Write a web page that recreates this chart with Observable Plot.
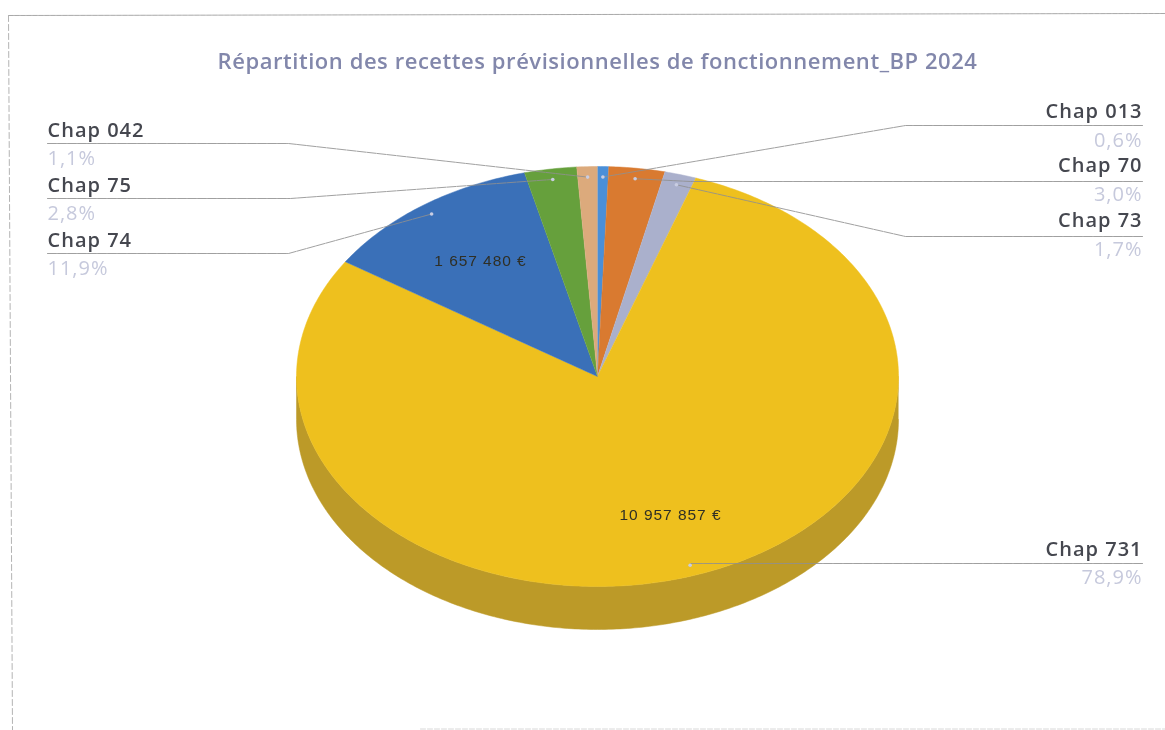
<!DOCTYPE html>
<html lang="fr">
<head>
<meta charset="utf-8">
<script src="https://cdn.jsdelivr.net/npm/d3@7"></script>
<script src="https://cdn.jsdelivr.net/npm/@observablehq/plot@0.6"></script>
<style>
  html, body { margin: 0; padding: 0; background: #fff; }
  #chart svg { display: block; filter: blur(0.75px); }
  .spaced-label text { letter-spacing: 1px; }
  .spaced-title text { letter-spacing: 0.55px; }
  .spaced-amount text { letter-spacing: 0.95px; }
</style>
</head>
<body>
<div id="chart"></div>
<script>
// ---- Data
const chapters = ["Chap 013", "Chap 70", "Chap 73", "Chap 731", "Chap 74", "Chap 75", "Chap 042"];
const shares = [0.6, 3.0, 1.7, 78.9, 11.9, 2.8, 1.1];
const shareLabels = ["0,6%", "3,0%", "1,7%", "78,9%", "11,9%", "2,8%", "1,1%"];
const amountLabels = [
  {chapter: "Chap 74", text: "1 657 480 €"},
  {chapter: "Chap 731", text: "10 957 857 €"}
];
const title = "Répartition des recettes prévisionnelles de fonctionnement_BP 2024";

// ---- Styles and layout
const colors = ["#4a8fd8", "#d97a30", "#aab0cc", "#eec01e", "#3a70b8", "#66a03c", "#dcaa7c"];
const wallColor = "#bc9a28";
const pie = {cx: 597, cy: 376, rx: 301, ry: 210, depth: 43, anchor: 0.95};
const labelLayout = {
  "Chap 013": {side: "right", nameY: 111, pctY: 140, lineY: 125, elbowX: 905},
  "Chap 70":  {side: "right", nameY: 165, pctY: 194, lineY: 181, elbowX: 690},
  "Chap 73":  {side: "right", nameY: 220, pctY: 249, lineY: 236, elbowX: 905},
  "Chap 731": {side: "right", nameY: 549, pctY: 577, lineY: 563, elbowX: 690},
  "Chap 74":  {side: "left",  nameY: 240, pctY: 268, lineY: 253, elbowX: 288},
  "Chap 75":  {side: "left",  nameY: 185, pctY: 213, lineY: 198, elbowX: 290},
  "Chap 042": {side: "left",  nameY: 130, pctY: 158, lineY: 143, elbowX: 288}
};
const amountPos = {"Chap 74": [480, 261], "Chap 731": [670, 515]};
const leftX = 47, rightX = 1142;
const font = "'Open Sans', 'Noto Sans', sans-serif";

// ---- Pie geometry derived from the shares
const total = d3.sum(shares);
const onPie = (a, r = 1, dy = 0) => ({
  x: pie.cx + pie.rx * r * Math.sin(a),
  y: pie.cy + dy - pie.ry * r * Math.cos(a)
});
let cum = 0;
const slices = chapters.map((chapter, i) => {
  const a0 = cum / total * 2 * Math.PI;
  cum += shares[i];
  const a1 = cum / total * 2 * Math.PI;
  return {chapter, share: shareLabels[i], a0, a1, mid: (a0 + a1) / 2};
});
const arcPts = (a0, a1, dy = 0) => {
  const n = Math.max(2, Math.ceil((a1 - a0) * 80));
  return d3.range(n + 1).map(k => onPie(a0 + (a1 - a0) * k / n, 1, dy));
};
const slicePts = slices.flatMap(s =>
  [{x: pie.cx, y: pie.cy}, ...arcPts(s.a0, s.a1)].map(p => ({...p, chapter: s.chapter}))
);
const wallPts = [
  ...arcPts(Math.PI / 2, 3 * Math.PI / 2, 0),
  ...arcPts(Math.PI / 2, 3 * Math.PI / 2, pie.depth).reverse()
];

const leaderPts = slices.flatMap(s => {
  const l = labelLayout[s.chapter];
  const end = onPie(s.mid, pie.anchor);
  return [
    {x: l.side === "right" ? rightX : leftX, y: l.lineY},
    {x: l.elbowX, y: l.lineY},
    end
  ].map(p => ({...p, chapter: s.chapter}));
});
const anchors = slices.map(s => onPie(s.mid, pie.anchor));
const names = slices.map(s => ({...s, ...labelLayout[s.chapter]}));
const leftNames = names.filter(d => d.side === "left");
const rightNames = names.filter(d => d.side === "right");

const frameTop = [{x: 8, y: 15}, {x: 1165, y: 13}];
const frameLeft = [{x: 8, y: 15}, {x: 12, y: 730}];
const frameBottom = [{x: 420, y: 728.5}, {x: 1165, y: 728.5}];

const labelMarks = (data, x, textAnchor) => [
  Plot.text(data, {x: () => x, y: "nameY", text: "chapter", textAnchor, fontFamily: font,
    fontSize: 20, fontWeight: 600, fill: "#45474f", className: "spaced-label"}),
  Plot.text(data, {x: () => x, y: "pctY", text: "share", textAnchor, fontFamily: font,
    fontSize: 20, fill: "#c6c9dc", className: "spaced-label"})
];

const plot = Plot.plot({
  width: 1165,
  height: 730,
  margin: 0,
  style: {background: "#fff"},
  x: {domain: [0, 1165], range: [0, 1165], axis: null},
  y: {domain: [0, 730], range: [0, 730], axis: null},
  color: {domain: chapters, range: colors},
  marks: [
    Plot.line(frameTop, {x: "x", y: "y", stroke: "#a8a8a8", strokeWidth: 1, strokeDasharray: "5,1"}),
    Plot.line(frameLeft, {x: "x", y: "y", stroke: "#b4b4b4", strokeWidth: 1, strokeDasharray: "6,3"}),
    Plot.line(frameBottom, {x: "x", y: "y", stroke: "#d8d8d8", strokeWidth: 1, strokeDasharray: "5,2"}),
    Plot.line(wallPts, {x: "x", y: "y", fill: wallColor, stroke: wallColor, strokeWidth: 0.5}),
    Plot.line(slicePts, {x: "x", y: "y", z: "chapter", fill: "chapter", stroke: "chapter", strokeWidth: 0.5}),
    Plot.line(leaderPts, {x: "x", y: "y", z: "chapter", stroke: "#8f8f8f", strokeWidth: 1,
      strokeOpacity: 0.85, strokeDasharray: "9,1"}),
    Plot.dot(anchors, {x: "x", y: "y", r: 1.8, fill: "#c9cde2"}),
    ...labelMarks(leftNames, leftX, "start"),
    ...labelMarks(rightNames, rightX, "end"),
    Plot.text(amountLabels, {x: d => amountPos[d.chapter][0], y: d => amountPos[d.chapter][1], text: "text",
      fontFamily: "'Liberation Sans', sans-serif", fontSize: 15.5, fill: "#2f2f25", className: "spaced-amount"}),
    Plot.text([title], {x: () => 597, y: () => 61, text: d => d, fontFamily: font,
      fontSize: 22, fontWeight: 600, fill: "#8287ab", className: "spaced-title"})
  ]
});
document.getElementById("chart").append(plot);
</script>
</body>
</html>
